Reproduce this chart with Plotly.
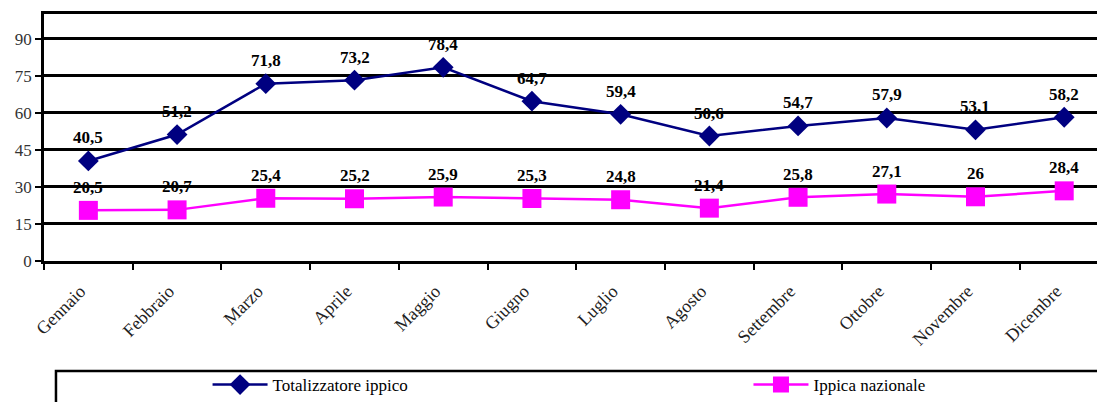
import plotly.graph_objects as go

months = ["Gennaio", "Febbraio", "Marzo", "Aprile", "Maggio", "Giugno",
          "Luglio", "Agosto", "Settembre", "Ottobre", "Novembre", "Dicembre"]
totalizzatore = [40.5, 51.2, 71.8, 73.2, 78.4, 64.7, 59.4, 50.6, 54.7, 57.9, 53.1, 58.2]
ippica = [20.5, 20.7, 25.4, 25.2, 25.9, 25.3, 24.8, 21.4, 25.8, 27.1, 26, 28.4]
y_ticks = [0, 15, 30, 45, 60, 75, 90]

SERIF = "Liberation Serif, Times New Roman, serif"

def fmt(v):
    return ("%g" % v).replace(".", ",")

fig = go.Figure()
fig.add_trace(go.Scatter(
    x=months, y=totalizzatore, mode="lines+markers", name="Totalizzatore ippico",
    line=dict(color="#000080", width=2.5),
    marker=dict(symbol="diamond", size=16, color="#000080"),
    legend="legend",
))
fig.add_trace(go.Scatter(
    x=months, y=ippica, mode="lines+markers", name="Ippica nazionale",
    line=dict(color="#FF00FF", width=2.5),
    marker=dict(symbol="square", size=19, color="#FF00FF"),
    legend="legend2",
))

annotations = []
for series in (totalizzatore, ippica):
    for m, v in zip(months, series):
        annotations.append(dict(
            x=m, y=v, xref="x", yref="y", text="<b>" + fmt(v) + "</b>", showarrow=False,
            yshift=23, font=dict(family=SERIF, size=17, color="black"),
        ))

legend_common = dict(
    orientation="h", yanchor="middle", xanchor="left",
    font=dict(family=SERIF, size=17, color="black"),
    bgcolor="rgba(0,0,0,0)", itemwidth=55,
)

fig.update_layout(
    width=1105, height=402,
    font=dict(family=SERIF),
    margin=dict(l=36, r=0, t=6, b=149, autoexpand=False),
    paper_bgcolor="white", plot_bgcolor="white",
    annotations=annotations,
    showlegend=True,
    legend=dict(x=0.153, y=-0.502, **legend_common),
    legend2=dict(x=0.659, y=-0.502, **legend_common),
    shapes=[dict(
        type="rect", xref="paper", yref="paper",
        x0=0.0112, x1=1.05, y0=-0.445, y1=-0.75,
        line=dict(color="black", width=2.5), fillcolor="rgba(0,0,0,0)",
    )],
)

fig.update_xaxes(
    type="category", range=[-0.5, 11.55], tickson="boundaries",
    ticks="outside", ticklen=6, tickwidth=2, tickcolor="black",
    showline=True, linecolor="black", linewidth=2.5, mirror=True,
    showgrid=False, tickangle=-45, automargin=False,
    ticklabelstandoff=10, ticklabelshift=-8,
    tickfont=dict(family=SERIF, size=18, color="#222222"),
)
fig.update_yaxes(
    range=[0, 100], tickvals=y_ticks, automargin=False,
    ticks="outside", ticklen=6, tickwidth=2, tickcolor="black",
    showline=True, linecolor="black", linewidth=2.5,
    showgrid=True, gridcolor="black", gridwidth=2.5,
    zeroline=False,
    tickfont=dict(family=SERIF, size=17, color="#333333"),
)

fig.write_html("out.html")
